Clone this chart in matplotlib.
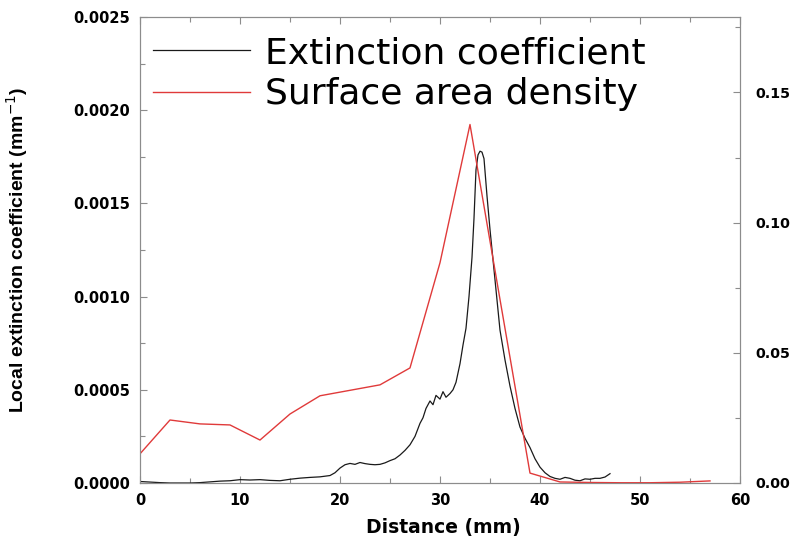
import matplotlib
matplotlib.use("Agg")
import matplotlib.pyplot as plt
from matplotlib.ticker import MultipleLocator, FormatStrFormatter

# Local extinction coefficient profile (mm^-1) along the distance axis
ext_distance = [
    0, 1, 2, 3, 4, 5, 6, 7, 8, 9, 10, 11, 12, 13, 14, 15, 16, 17, 18, 19,
    19.5, 20, 20.5, 21, 21.5, 22, 22.5, 23, 23.5, 24, 24.5, 25, 25.5, 26,
    26.5, 27, 27.5, 28, 28.3, 28.6, 29, 29.3, 29.6, 30, 30.3, 30.6, 31,
    31.3, 31.6, 32, 32.3, 32.6, 32.9, 33.2, 33.4, 33.6, 33.8, 34.0, 34.2,
    34.4, 34.7, 35, 35.5, 36, 36.5, 37, 37.5, 38, 38.5, 39, 39.5, 40, 40.5,
    41, 41.5, 42, 42.5, 43, 43.5, 44, 44.5, 45, 45.5, 46, 46.5, 47,
]
ext_coeff = [
    0.000008, 0.000005, 0.000002, 0.0, 0.0, 0.0, 0.000002, 0.000006,
    0.000010, 0.000012, 0.000018, 0.000016, 0.000018, 0.000014, 0.000012,
    0.000020, 0.000026, 0.000030, 0.000033, 0.000040,
    0.000055, 0.000080, 0.000098, 0.000105, 0.000100, 0.000110, 0.000104,
    0.000100, 0.000098, 0.000100, 0.000108, 0.000120, 0.000130, 0.000150,
    0.000175, 0.000205, 0.000250, 0.000320, 0.000350, 0.000400, 0.000440,
    0.000420, 0.000470, 0.000450, 0.000490, 0.000460, 0.000480,
    0.000500, 0.000540, 0.000640, 0.000740, 0.000830, 0.001000, 0.001210,
    0.001420, 0.001680, 0.001760, 0.001780, 0.001775,
    0.001740, 0.001540, 0.001360, 0.001090, 0.000820, 0.000660, 0.000520,
    0.000400, 0.000300, 0.000240, 0.000190, 0.000130, 0.000085, 0.000055,
    0.000035, 0.000025, 0.000020, 0.000030, 0.000025, 0.000015, 0.000012,
    0.000022, 0.000020, 0.000025, 0.000025, 0.000032, 0.000050,
]

# Surface area density, sampled every 3 mm
sad_distance = [0, 3, 6, 9, 12, 15, 18, 21, 24, 27, 30, 33, 36, 39, 42,
                45, 48, 51, 54, 57]
sad_values = [0.0112, 0.0242, 0.0227, 0.0223, 0.0165, 0.0265, 0.0335,
              0.0356, 0.0377, 0.0442, 0.0846, 0.1377, 0.0705, 0.0038,
              0.0004, 0.0002, 0.0001, 0.0001, 0.0003, 0.0008]

FRAME = "#8c8c8c"

fig = plt.figure(figsize=(7.94, 5.39), dpi=100)
ax = fig.add_axes([0.1763, 0.1039, 0.7557, 0.8646])
ax2 = ax.twinx()

(h1,) = ax.plot(ext_distance, ext_coeff, color="#1a1a1a", lw=0.9,
                label="Extinction coefficient")
(h2,) = ax2.plot(sad_distance, sad_values, color="#e03a3a", lw=1.0,
                 label="Surface area density")

ax.set_xlim(0, 60)
ax.set_ylim(0, 0.0025)
ax2.set_ylim(0, 0.179)

ax.xaxis.set_major_locator(MultipleLocator(10))
ax.xaxis.set_minor_locator(MultipleLocator(5))
ax.yaxis.set_major_locator(MultipleLocator(0.0005))
ax.yaxis.set_minor_locator(MultipleLocator(0.00025))
ax.yaxis.set_major_formatter(FormatStrFormatter("%.4f"))
ax2.yaxis.set_major_locator(MultipleLocator(0.05))
ax2.yaxis.set_minor_locator(MultipleLocator(0.025))
ax2.yaxis.set_major_formatter(FormatStrFormatter("%.2f"))

for a in (ax, ax2):
    for s in a.spines.values():
        s.set_color(FRAME)
        s.set_linewidth(0.8)

ax.tick_params(which="both", direction="in", color=FRAME, width=0.8,
               top=True, right=False, labelsize=10.5, pad=7)
ax.tick_params(which="major", length=5)
ax.tick_params(which="minor", length=3.5)
ax2.tick_params(which="both", direction="in", color=FRAME, width=0.8,
                labelsize=10.3, pad=11)
ax2.tick_params(which="major", length=5)
ax2.tick_params(which="minor", length=3.5)

for lbl in ax.get_xticklabels() + ax.get_yticklabels() + ax2.get_yticklabels():
    lbl.set_fontweight("bold")

ax.set_xlabel("Distance (mm)", fontsize=13.5, fontweight="bold")
ax.xaxis.set_label_coords(0.505, -0.075)
ax.set_ylabel("Local extinction coefficient (mm$^{-1}$)", fontsize=14,
              fontweight="bold", family="Liberation Sans")
ax.yaxis.set_label_coords(-0.183, 0.5)

ax.legend([h1, h2], [h1.get_label(), h2.get_label()], loc="upper left",
          bbox_to_anchor=(-0.003, 0.99), frameon=False, fontsize=26,
          handlelength=2.7, handletextpad=0.4, labelspacing=0.2,
          borderaxespad=0)

fig.savefig("out.png", dpi=100)
